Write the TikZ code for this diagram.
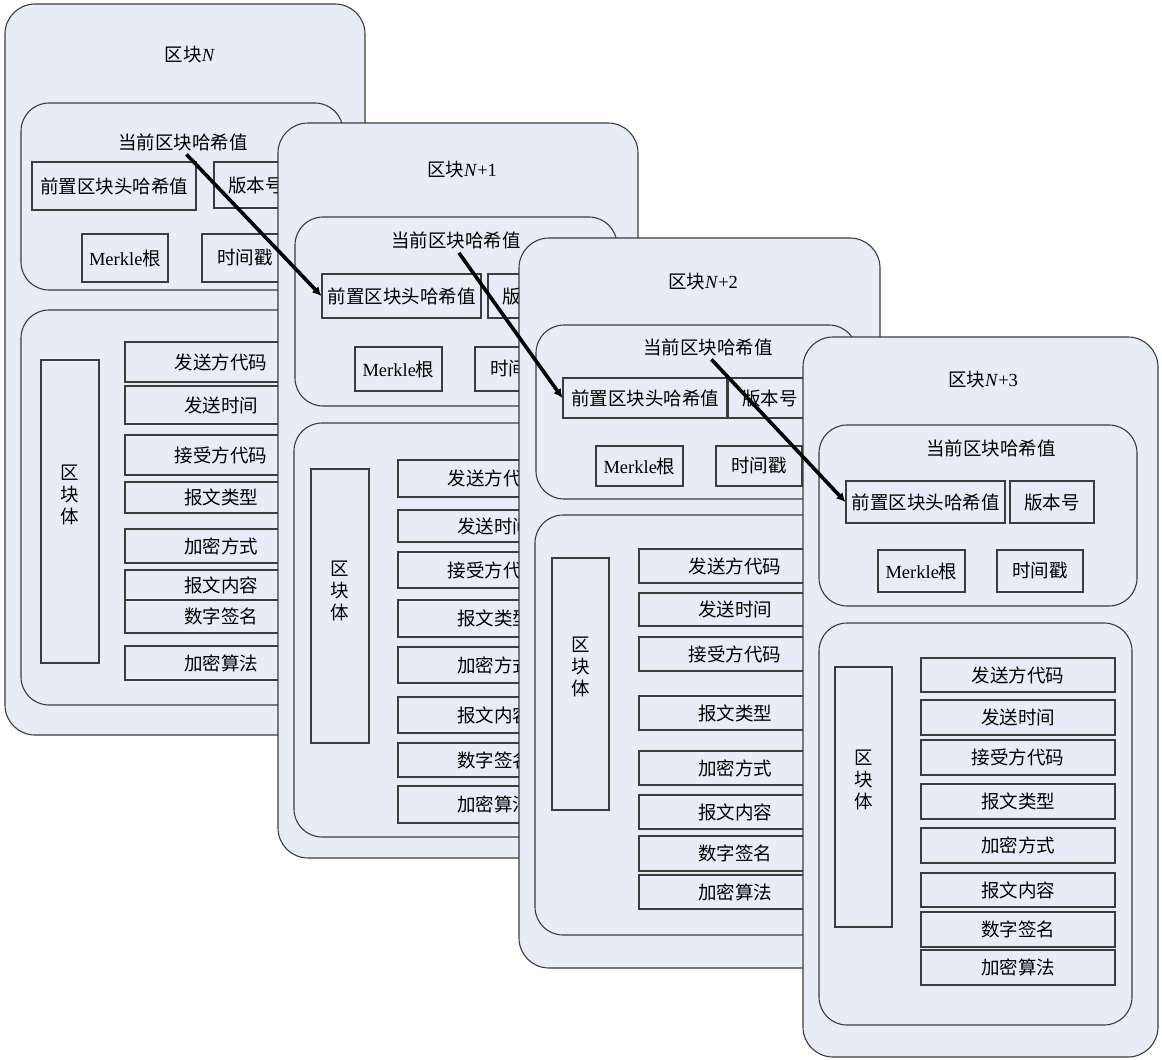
\documentclass[tikz,border=0pt]{standalone}
\usepackage{fontspec}
\setmainfont{Liberation Serif}
\newfontfamily\cjk{Noto Sans CJK SC}
\usetikzlibrary{arrows.meta}
\definecolor{blockfill}{RGB}{231,236,246}
\definecolor{blockline}{RGB}{60,60,60}

\begin{document}
\begin{tikzpicture}[
  x=1pt, y=-1pt,
  every node/.style={font=\fontsize{18.5}{22}\selectfont, align=center, inner sep=0pt},
  block/.style={draw=blockline, line width=1.1pt, fill=blockfill, rounded corners=30pt},
  section/.style={draw=blockline, line width=1.1pt, fill=blockfill, rounded corners=28pt},
  field/.style={draw=blockline, line width=1.1pt, fill=blockfill},
  zh/.style={font=\fontsize{18.5}{22}\selectfont\cjk},
  row/.style={field, zh, minimum width=192pt},
  chain_arrow/.style={-{Latex[length=9pt,width=9pt]}, line width=3.6pt, shorten <=5pt}
]
\useasboundingbox (0,0) rectangle (1162,1060);

% Block N
\node[block, minimum width=360pt, minimum height=731pt] (n0) at (185,369.5) {};
\node (n0_title) at (190,55) {{\cjk 区块}\textit{N}};
\node[section, minimum width=322pt, minimum height=187pt] (n0_head) at (182,196.5) {};
\node[zh] (n0_hash) at (183,142) {当前区块哈希值};
\node[field, zh, minimum width=164pt, minimum height=48pt] (n0_prev) at (114,186) {前置区块头哈希值};
\node[field, zh, minimum width=84pt, minimum height=46pt] (n0_ver) at (256,185) {版本号};
\node[field, minimum width=86pt, minimum height=48pt] (n0_merkle) at (125,258) {Merkle{\cjk 根}};
\node[field, zh, minimum width=86pt, minimum height=48pt] (n0_time) at (245,258) {时间戳};
\node[section, minimum width=322pt, minimum height=395pt] (n0_body) at (182,507.5) {};
\node[field, minimum width=58pt, minimum height=303pt] (n0_label) at (70,511.5) {};
\node[zh] (n0_labeltext) at ([yshift=17pt]n0_label.center) {区\\块\\体};
\node[row, minimum height=40pt] (n0_f1) at (221,362) {发送方代码};
\node[row, minimum height=38pt] (n0_f2) at (221,405) {发送时间};
\node[row, minimum height=40pt] (n0_f3) at (221,455) {接受方代码};
\node[row, minimum height=31pt] (n0_f4) at (221,497.5) {报文类型};
\node[row, minimum height=34pt] (n0_f5) at (221,546) {加密方式};
\node[row, minimum height=30pt] (n0_f6) at (221,585) {报文内容};
\node[row, minimum height=33pt] (n0_f7) at (221,616.5) {数字签名};
\node[row, minimum height=34pt] (n0_f8) at (221,663) {加密算法};

% Block N+1
\node[block, minimum width=360pt, minimum height=735pt] (n1) at (458,490.5) {};
\node (n1_title) at (462,170) {{\cjk 区块}\textit{N}+1};
\node[section, minimum width=322pt, minimum height=189pt] (n1_head) at (456,311.5) {};
\node[zh] (n1_hash) at (456,240) {当前区块哈希值};
\node[field, zh, minimum width=159pt, minimum height=44pt] (n1_prev) at (401.5,296) {前置区块头哈希值};
\node[field, zh, minimum width=84pt, minimum height=44pt] (n1_ver) at (530,296) {版本号};
\node[field, minimum width=87pt, minimum height=44pt] (n1_merkle) at (398.5,369) {Merkle{\cjk 根}};
\node[field, zh, minimum width=86pt, minimum height=44pt] (n1_time) at (518,369) {时间戳};
\node[section, minimum width=322pt, minimum height=414pt] (n1_body) at (455,630) {};
\node[field, minimum width=58pt, minimum height=274pt] (n1_label) at (340,606) {};
\node[zh] (n1_labeltext) at ([yshift=15pt]n1_label.center) {区\\块\\体};
\node[row, minimum height=37pt] (n1_f1) at (494,478.5) {发送方代码};
\node[row, minimum height=32pt] (n1_f2) at (494,526) {发送时间};
\node[row, minimum height=36pt] (n1_f3) at (494,570) {接受方代码};
\node[row, minimum height=37pt] (n1_f4) at (494,618.5) {报文类型};
\node[row, minimum height=36pt] (n1_f5) at (494,665) {加密方式};
\node[row, minimum height=36pt] (n1_f6) at (494,715) {报文内容};
\node[row, minimum height=34pt] (n1_f7) at (494,760) {数字签名};
\node[row, minimum height=37pt] (n1_f8) at (494,804.5) {加密算法};

% Block N+2
\node[block, minimum width=361pt, minimum height=730pt] (n2) at (699.5,603) {};
\node (n2_title) at (703,282) {{\cjk 区块}\textit{N}+2};
\node[section, minimum width=321pt, minimum height=174pt] (n2_head) at (696.5,412) {};
\node[zh] (n2_hash) at (708,347) {当前区块哈希值};
\node[field, zh, minimum width=164pt, minimum height=40pt] (n2_prev) at (645,398) {前置区块头哈希值};
\node[field, zh, minimum width=84pt, minimum height=40pt] (n2_ver) at (770,398) {版本号};
\node[field, minimum width=87pt, minimum height=40pt] (n2_merkle) at (639.5,466) {Merkle{\cjk 根}};
\node[field, zh, minimum width=86pt, minimum height=40pt] (n2_time) at (759,466) {时间戳};
\node[section, minimum width=322pt, minimum height=420pt] (n2_body) at (696,725) {};
\node[field, minimum width=57pt, minimum height=252pt] (n2_label) at (580.5,684) {};
\node[zh] (n2_labeltext) at ([yshift=17pt]n2_label.center) {区\\块\\体};
\node[row, minimum height=34pt] (n2_f1) at (735,566) {发送方代码};
\node[row, minimum height=33pt] (n2_f2) at (735,609.5) {发送时间};
\node[row, minimum height=34pt] (n2_f3) at (735,654) {接受方代码};
\node[row, minimum height=34pt] (n2_f4) at (735,713) {报文类型};
\node[row, minimum height=34pt] (n2_f5) at (735,768) {加密方式};
\node[row, minimum height=34pt] (n2_f6) at (735,812) {报文内容};
\node[row, minimum height=35pt] (n2_f7) at (735,853.5) {数字签名};
\node[row, minimum height=34pt] (n2_f8) at (735,892) {加密算法};

% Block N+3
\node[block, minimum width=355pt, minimum height=720pt] (n3) at (980.5,697) {};
\node (n3_title) at (983,380) {{\cjk 区块}\textit{N}+3};
\node[section, minimum width=318pt, minimum height=181pt] (n3_head) at (978,515.5) {};
\node[zh] (n3_hash) at (991,448) {当前区块哈希值};
\node[field, zh, minimum width=159pt, minimum height=42pt] (n3_prev) at (925.5,502) {前置区块头哈希值};
\node[field, zh, minimum width=84pt, minimum height=42pt] (n3_ver) at (1052,502) {版本号};
\node[field, minimum width=87pt, minimum height=42pt] (n3_merkle) at (921.5,571) {Merkle{\cjk 根}};
\node[field, zh, minimum width=86pt, minimum height=42pt] (n3_time) at (1040,571) {时间戳};
\node[section, minimum width=313pt, minimum height=402pt] (n3_body) at (975.5,824) {};
\node[field, minimum width=57pt, minimum height=260pt] (n3_label) at (863.5,797) {};
\node[zh] (n3_labeltext) at ([yshift=17pt]n3_label.center) {区\\块\\体};
\node[row, minimum width=194pt, minimum height=34pt] (n3_f1) at (1018,675) {发送方代码};
\node[row, minimum width=194pt, minimum height=35pt] (n3_f2) at (1018,717.5) {发送时间};
\node[row, minimum width=194pt, minimum height=35pt] (n3_f3) at (1018,757.5) {接受方代码};
\node[row, minimum width=194pt, minimum height=35pt] (n3_f4) at (1018,801.5) {报文类型};
\node[row, minimum width=194pt, minimum height=35pt] (n3_f5) at (1018,845.5) {加密方式};
\node[row, minimum width=194pt, minimum height=34pt] (n3_f6) at (1018,890) {报文内容};
\node[row, minimum width=194pt, minimum height=35pt] (n3_f7) at (1018,929.5) {数字签名};
\node[row, minimum width=194pt, minimum height=35pt] (n3_f8) at (1018,967.5) {加密算法};

% Hash links
\draw[chain_arrow] (n0_hash.south) -- (n1_prev.west);
\draw[chain_arrow] (n1_hash.south) -- (n2_prev.west);
\draw[chain_arrow] (n2_hash.south) -- (n3_prev.west);

\end{tikzpicture}
\end{document}
